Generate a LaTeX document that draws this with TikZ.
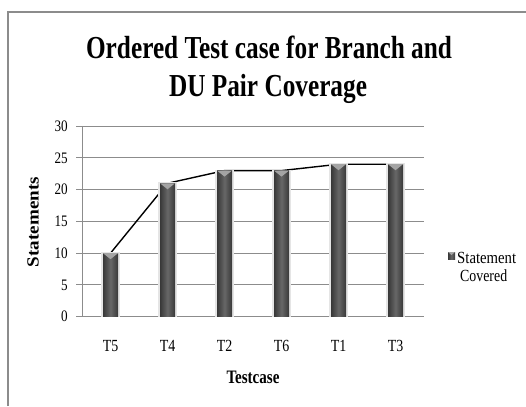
\documentclass[tikz,border=0pt]{standalone}
\usepackage{fontspec}
\setmainfont{Liberation Serif}
\usepackage{graphicx}
\definecolor{gridgray}{HTML}{8C8C8C}
\definecolor{bardark}{HTML}{383838}
\definecolor{barmid}{HTML}{676767}
\definecolor{bartop}{HTML}{A4A4A4}
\newcommand{\sqz}[1]{\scalebox{0.82}[1]{#1}}
\newcommand{\fitw}[2]{\resizebox{#1}{\height}{#2}}
\tikzset{
  grid line/.style={draw=gridgray,line width=1pt},
  tick label/.style={anchor=east,inner sep=0pt,font=\fontsize{16}{16}\selectfont},
  cat label/.style={anchor=base,inner sep=0pt,font=\fontsize{17}{17}\selectfont},
  title text/.style={anchor=base,inner sep=0pt,font=\fontsize{32}{32}\selectfont\bfseries},
  legend text/.style={anchor=base west,inner sep=0pt,font=\fontsize{17}{17}\selectfont},
  bar/.style={left color=bardark,right color=bardark,middle color=barmid},
}
\begin{document}
\begin{tikzpicture}[x=1pt,y=-1pt]
  \useasboundingbox (0,0) rectangle (526,406);
  \draw[gridgray,line width=2pt] (7.5,406) -- (7.5,12) -- (526,12);%frame
  \node[title text] (title1) at (269,58.5) {\scalebox{0.79}[1]{Ordered Test case for Branch and}};
  \node[title text] (title2) at (268,97) {\scalebox{0.79}[1]{DU Pair Coverage}};
  \foreach \v in {0,5,...,30}{
    \draw[grid line] (76,316.7-6.353*\v) -- (424,316.7-6.353*\v);
    \node[tick label] (y\v) at (68,316.7-6.353*\v) {\sqz{\v}};
  }
  \draw[grid line] (82,126) -- (82,316.7);%axis
  \foreach \t/\v [count=\i] in {T5/10,T4/21,T2/23,T6/23,T1/24,T3/24}{
    \coordinate (p\i) at (57*\i+53.5,316.7-6.353*\v);
    \node[cat label] (c\t) at (57*\i+53.5,351) {\sqz{\t}};
  }
  \draw[line width=1.4pt] (p1) -- (p2) -- (p3) -- (p4) -- (p5) -- (p6);
  \foreach \v [count=\i] in {10,21,23,23,24,24}{
    \fill[black!10,shift={(p\i)}] (-9.5,-1) rectangle (9.5,6.353*\v);%shadow
    \shade[bar,shift={(p\i)}] (-7.5,0) rectangle (7.5,6.353*\v);
    \fill[bartop,shift={(p\i)}] (-7.5,0) -- (7.5,0) -- (0,6) -- cycle;%bevel
  }
  \node[anchor=base,inner sep=0pt,font=\fontsize{19}{19}\selectfont\bfseries] (xtitle) at (253,383)
    {\fitw{53pt}{Testcase}};
  \node[rotate=90,inner sep=0pt,font=\fontsize{17}{17}\selectfont\bfseries] (ytitle) at (33,222)
    {\fitw{90pt}{Statements}};
  \shade[bar] (448,252) rectangle (455,259);
  \fill[bartop] (448,252) -- (455,252) -- (451.5,255) -- cycle;
  \node[legend text] (leg1) at (457,263) {\fitw{59pt}{Statement}};
  \node[legend text] (leg2) at (460,281) {\fitw{47pt}{Covered}};
\end{tikzpicture}
\end{document}
